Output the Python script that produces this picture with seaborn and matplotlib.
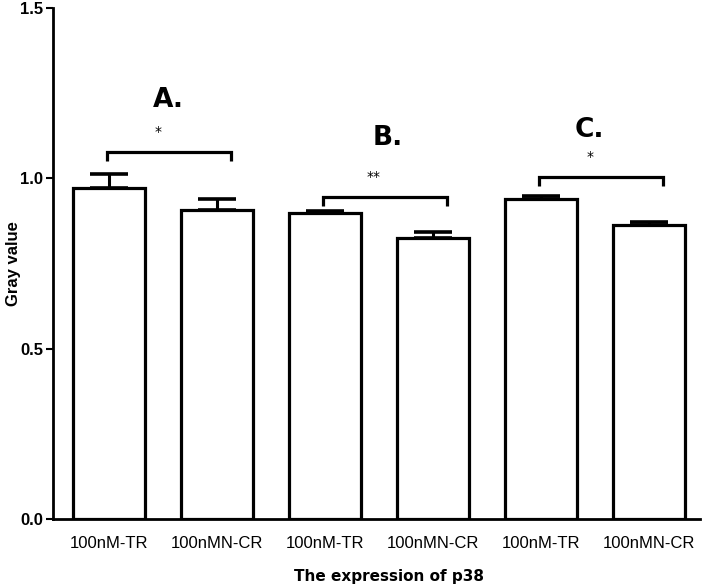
import matplotlib
matplotlib.use("Agg")
import matplotlib.pyplot as plt
import seaborn as sns
import pandas as pd
import numpy as np

# ---- data ----
categories = ["100nM-TR", "100nMN-CR", "100nM-TR", "100nMN-CR", "100nM-TR", "100nMN-CR"]
means = [0.972, 0.907, 0.898, 0.825, 0.939, 0.863]
sems = [0.041, 0.032, 0.006, 0.017, 0.009, 0.009]
group_labels = ["A.", "B.", "C."]
sig_marks = ["*", "**", "*"]
bracket_heights = [1.077, 0.945, 1.004]
label_heights = [1.23, 1.118, 1.142]
label_offsets = [0.55, 0.58, 0.45]

sns.set_theme(style="white")
plt.rcParams['font.family'] = ['Liberation Sans', 'DejaVu Sans']
plt.rcParams['text.color'] = 'black'
plt.rcParams['axes.labelcolor'] = 'black'
plt.rcParams['xtick.color'] = 'black'
plt.rcParams['ytick.color'] = 'black'

fig = plt.figure(figsize=(7.06, 5.85), dpi=100)
ax = fig.add_axes([0.0751, 0.1128, 0.9164, 0.8735])

df = pd.DataFrame({"pos": [str(i) for i in range(len(means))], "value": means})
sns.barplot(data=df, x="pos", y="value", ax=ax, color="white", edgecolor="black",
            linewidth=2.3, width=0.665, errorbar=None, saturation=1)

x = np.arange(len(means))
ax.errorbar(x, means, yerr=[np.zeros(len(sems)), sems], fmt="none", ecolor="black",
            elinewidth=2.2, capsize=13.5, capthick=2.6, zorder=1)

ax.set_xlim(-0.52, 5.47)
ax.set_ylim(0, 1.5)
ax.set_yticks([0.0, 0.5, 1.0, 1.5])
ax.set_yticklabels(["0.0", "0.5", "1.0", "1.5"], fontweight="bold", fontsize=12)
ax.set_xticks(x)
ax.set_xticklabels(categories, fontsize=12)
ax.tick_params(axis="x", length=0, pad=12)
ax.tick_params(axis="y", length=5, width=1.5, color="black", direction="out", pad=2, left=True)

for s in ["top", "right"]:
    ax.spines[s].set_visible(False)
for s in ["left", "bottom"]:
    ax.spines[s].set_color("black")
    ax.spines[s].set_linewidth(2.0)

ax.set_ylabel("Gray value", fontweight="bold", fontsize=12)
ax.yaxis.set_label_coords(-0.050, 0.5)
ax.set_xlabel("The expression of p38", fontweight="bold", fontsize=11, family=['DejaVu Sans'])
ax.xaxis.set_label_coords(0.519, -0.097)

# significance brackets
for g in range(3):
    left = 2 * g - 0.02
    right = 2 * g + 1.13
    h = bracket_heights[g]
    drop = 0.025
    ax.plot([left, left, right, right], [h - drop, h, h, h - drop], color="black",
            lw=2.3, solid_capstyle="butt", solid_joinstyle="miter", clip_on=False)
    ax.text(2 * g + 0.45, h + 0.06, sig_marks[g], ha="center", va="center",
            fontsize=10, family=['DejaVu Sans'])
    ax.text(2 * g + label_offsets[g], label_heights[g], group_labels[g],
            ha="center", va="center", fontsize=19, fontweight="bold", family=['DejaVu Sans'])

fig.savefig("out.png", dpi=100)
